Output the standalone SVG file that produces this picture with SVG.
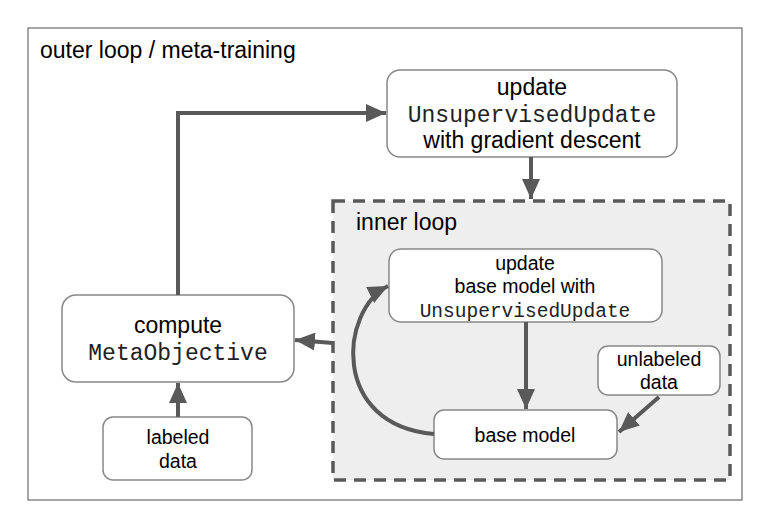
<svg xmlns="http://www.w3.org/2000/svg" width="764" height="517" viewBox="0 0 764 517">
<defs>
<marker id="ah" viewBox="0 0 10 9" refX="10" refY="4.5" markerWidth="5" markerHeight="4.5" markerUnits="strokeWidth" orient="auto">
<path d="M0,0 L10,4.5 L0,9 z" fill="#595959"/>
</marker>
<style>
.node{fill:#fff;stroke:#888;stroke-width:1.5}
.t{font-family:"Liberation Sans",Arial,sans-serif;fill:#000;text-anchor:middle}
.m{font-family:"Liberation Mono","Courier New",monospace;fill:#222;text-anchor:middle}
.c{fill:none;stroke:#595959;stroke-width:4;marker-end:url(#ah)}
</style>
</defs>
<rect x="0" y="0" width="764" height="517" fill="#fff"/>
<g id="outer">
<rect x="28" y="28" width="714" height="472" fill="#fff" stroke="#888" stroke-width="1.5"/>
<text x="40" y="58" font-family="Liberation Sans,Arial,sans-serif" font-size="23">outer loop / meta-training</text>
</g>
<g id="inner">
<rect x="333" y="201" width="397" height="279" fill="#eeeeee" stroke="#595959" stroke-width="3.5" stroke-dasharray="12,8"/>
<text x="356" y="230" font-family="Liberation Sans,Arial,sans-serif" font-size="23">inner loop</text>
</g>
<g id="update-outer">
<rect class="node" x="387" y="70" width="290" height="87" rx="13"/>
<text class="t" x="532" y="95" font-size="23">update</text>
<text class="m" x="532" y="122" font-size="23">UnsupervisedUpdate</text>
<text class="t" x="532" y="148" font-size="23">with gradient descent</text>
</g>
<g id="update-inner">
<rect class="node" x="389" y="249" width="273" height="73" rx="12"/>
<text class="t" x="525" y="270" font-size="19.5">update</text>
<text class="t" x="525" y="293" font-size="19.5">base model with</text>
<text class="m" x="525" y="317" font-size="19.5">UnsupervisedUpdate</text>
</g>
<g id="base-model">
<rect class="node" x="434" y="410" width="183" height="49" rx="10"/>
<text class="t" x="525" y="442" font-size="19.5">base model</text>
</g>
<g id="unlabeled-data">
<rect class="node" x="598" y="346" width="122" height="49" rx="10"/>
<text class="t" x="659" y="366" font-size="19.5">unlabeled</text>
<text class="t" x="659" y="389" font-size="19.5">data</text>
</g>
<g id="compute">
<rect class="node" x="62" y="295" width="232" height="87" rx="14"/>
<text class="t" x="178" y="333" font-size="23">compute</text>
<text class="m" x="178" y="360" font-size="23">MetaObjective</text>
</g>
<g id="labeled-data">
<rect class="node" x="103" y="417" width="149" height="63" rx="10"/>
<text class="t" x="178" y="444" font-size="19.5">labeled</text>
<text class="t" x="178" y="468" font-size="19.5">data</text>
</g>
<g id="connectors">
<path class="c" d="M178,295 L178,113 L386,113"/>
<path class="c" d="M531,157 L531,199"/>
<path class="c" d="M333,343 L295,340"/>
<path class="c" d="M178,417 L178,383"/>
<path class="c" d="M526,322 L526,409"/>
<path class="c" d="M659,397 L619,432"/>
<path class="c" d="M434,434 C 330,425 340,310 388,286"/>
</g>
</svg>
